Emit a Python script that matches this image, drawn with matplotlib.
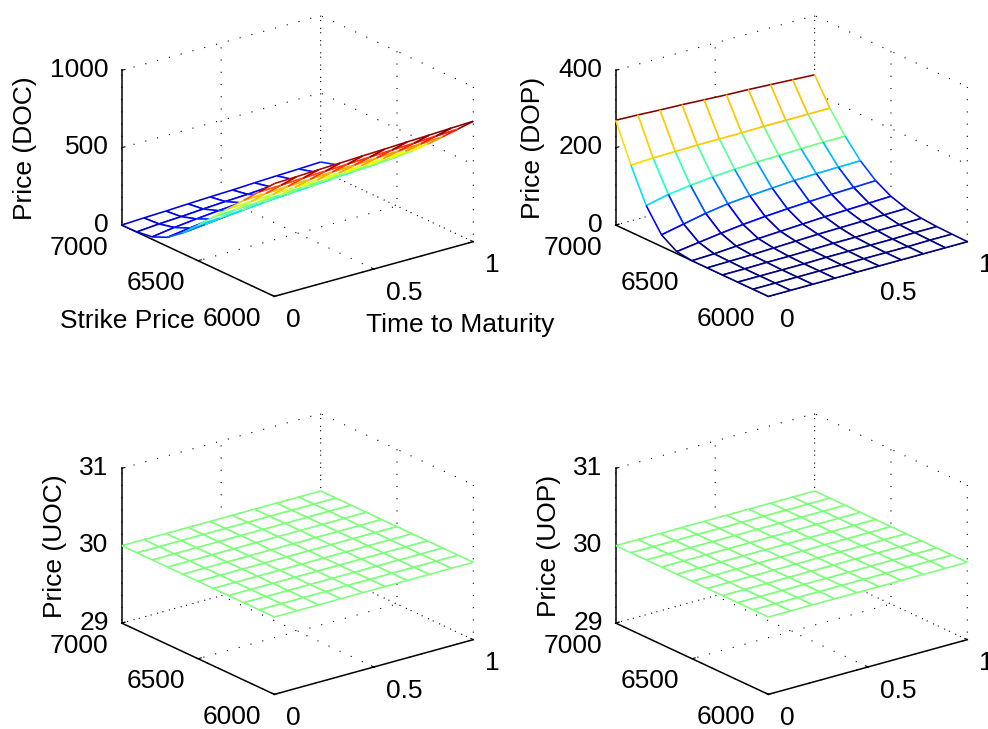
import numpy as np
import matplotlib
matplotlib.use("Agg")
import matplotlib.pyplot as plt
from matplotlib import cm
from matplotlib.colors import Normalize
from mpl_toolkits.mplot3d import proj3d
from mpl_toolkits.mplot3d.art3d import Poly3DCollection, Line3DCollection

plt.rcParams['font.family'] = ['Liberation Sans', 'DejaVu Sans']
plt.rcParams['font.size'] = 19
plt.rcParams['grid.color'] = 'black'
plt.rcParams['grid.linewidth'] = 0.8
plt.rcParams['grid.linestyle'] = (0, (1, 10))

# values
maturity = [0, 0.111, 0.222, 0.333, 0.444, 0.556, 0.667, 0.778, 0.889, 1]
strike = [7000, 6900, 6800, 6700, 6600, 6500, 6400, 6300, 6200, 6100, 6000]

doc = [[0, 7, 12, 19, 25, 30, 37, 43, 48, 54],
       [2, 14, 22, 32, 41, 48, 58, 67, 75, 83],
       [16, 37, 53, 67, 79, 90, 99, 109, 118, 126],
       [59, 79, 98, 115, 128, 139, 151, 161, 170, 178],
       [134, 149, 165, 179, 192, 203, 213, 224, 233, 242],
       [229, 238, 249, 260, 271, 280, 291, 300, 309, 318],
       [329, 337, 344, 353, 362, 370, 379, 386, 394, 402],
       [429, 435, 443, 449, 457, 464, 471, 478, 485, 492],
       [529, 535, 541, 547, 555, 560, 567, 573, 580, 586],
       [629, 634, 641, 646, 652, 658, 664, 669, 676, 682],
       [729, 734, 740, 745, 751, 756, 762, 767, 773, 778]]

dop = [[271, 269, 266, 264, 261, 258, 256, 253, 250, 247],
       [173, 176, 177, 178, 178, 178, 179, 179, 179, 179],
       [87, 100, 108, 114, 118, 121, 122, 124, 125, 125],
       [30, 42, 54, 63, 68, 72, 76, 78, 79, 80],
       [5, 13, 21, 28, 33, 37, 40, 43, 45, 47],
       [0, 2, 6, 10, 13, 16, 19, 21, 23, 25],
       [0, 1, 2, 4, 6, 8, 9, 10, 11, 12],
       [0, 0, 1, 1, 2, 3, 3, 4, 4, 5],
       [0, 0, 0, 0, 1, 1, 1, 1, 2, 2],
       [0, 0, 0, 0, 0, 0, 0, 0, 1, 1],
       [0, 0, 0, 0, 0, 0, 0, 0, 0, 0]]

uoc = [[30] * 10 for row in strike]
uop = [[30] * 10 for row in strike]

x_ticks = [0, 0.5, 1]
x_labels = ['0', '0.5', '1']
y_ticks = [7000, 6500, 6000]

W, H = 988, 729
SIDE = 380


def mesh(ax, z, vmin, vmax):
    # painter's order, far cells first, white faces hide what is behind (like matlab mesh)
    z = np.array(z, dtype=float)
    norm = Normalize(vmin, vmax)
    n = 10
    for j in range(len(strike) - 1):
        for i in range(len(maturity) - 2, -1, -1):
            t0, t1 = maturity[i], maturity[i + 1]
            k0, k1 = strike[j], strike[j + 1]
            corners = [(t0, k0, z[j, i]), (t1, k0, z[j, i + 1]), (t1, k1, z[j + 1, i + 1]), (t0, k1, z[j + 1, i])]
            face = Poly3DCollection([corners], facecolors='white', edgecolors='none', zorder=n)
            ax.add_collection3d(face, autolim=False)
            segs = [[corners[0], corners[1]], [corners[3], corners[2]], [corners[0], corners[3]], [corners[1], corners[2]]]
            cols = [cm.jet(norm(z[j, i])), cm.jet(norm(z[j + 1, i])), cm.jet(norm(z[j + 1, i])), cm.jet(norm(z[j + 1, i + 1]))]
            lines = Line3DCollection(segs, colors=cols, linewidths=1.15, zorder=n + 1)
            ax.add_collection3d(lines, autolim=False)
            n += 2


def tick_text(ax, x, y, z, label, off, ha):
    # matlab puts its tick labels differently from mplot3d, so place them from the projected tick
    M = ax.get_proj()
    px, py, _ = proj3d.proj_transform(x, y, z, M)
    ax.annotate(label, xy=(px, py), xycoords='data', xytext=off, textcoords='offset pixels',
                ha=ha, va='center_baseline', annotation_clip=False, zorder=1000)


def panel(dx, dy, z, zticks, vmin, vmax, zlabel, zlabel_x):
    # dx, dy = panel offset in pixels from the top left one
    cx, cy = 297.5 + dx, 156 + dy
    left = cx - 0.5135 * SIDE
    bottom = H - (cy + 0.5135 * SIDE)
    ax = fig.add_axes([left / W, bottom / H, SIDE / W, SIDE / H], projection='3d', computed_zorder=False)
    ax.patch.set_alpha(0)
    ax.set_proj_type('ortho')
    ax.view_init(elev=21, azim=-127.5)
    ax.set_box_aspect((1, 1, 0.661))
    ax.set_xlim(0, 1)
    ax.set_ylim(6000, 7000)
    ax.set_zlim(zticks[0], zticks[-1])
    ax.set_xticks(x_ticks)
    ax.set_yticks(y_ticks)
    ax.set_zticks(zticks)
    ax.set_xticklabels([])
    ax.set_yticklabels([])
    ax.set_zticklabels([])
    for a in (ax.xaxis, ax.yaxis, ax.zaxis):
        a.set_pane_color((1, 1, 1, 0))
        a._axinfo['axisline']['color'] = 'black'
        a._axinfo['axisline']['linewidth'] = 1.1
        a._axinfo['tick']['inward_factor'] = 0.0
        a._axinfo['tick']['outward_factor'] = 0.2
        a.line.set_linewidth(1.1)
        a.pane.set_edgecolor((1, 1, 1, 0))
    mesh(ax, z, vmin, vmax)
    for t, lab in zip(x_ticks, x_labels):
        tick_text(ax, t, 6000, zticks[0], lab, (12, -21), 'left')
    for k in y_ticks:
        tick_text(ax, 0, k, zticks[0], str(k), (-13, -20), 'right')
    for v in zticks:
        tick_text(ax, 0, 7000, v, str(v), (-13, 3), 'right')
    fig.text((zlabel_x + dx) / W, 1 - (148 + dy) / H, zlabel, rotation=90, ha='center', va='center')
    return ax


fig = plt.figure(figsize=(W / 100, H / 100), dpi=100)

panel(0, 0, doc, [0, 500, 1000], -50, 778, 'Price (DOC)', 25)
panel(494, 0, dop, [0, 200, 400], 0, 255, 'Price (DOP)', 39)
panel(0, 398, uoc, [29, 30, 31], 29, 31, 'Price (UOC)', 55)
panel(494, 398, uop, [29, 30, 31], 29, 31, 'Price (UOP)', 55)

fig.text(127 / W, 1 - 321 / H, 'Strike Price', ha='center', va='center')
fig.text(460 / W, 1 - 325 / H, 'Time to Maturity', ha='center', va='center')

fig.savefig('out.png', dpi=100)
